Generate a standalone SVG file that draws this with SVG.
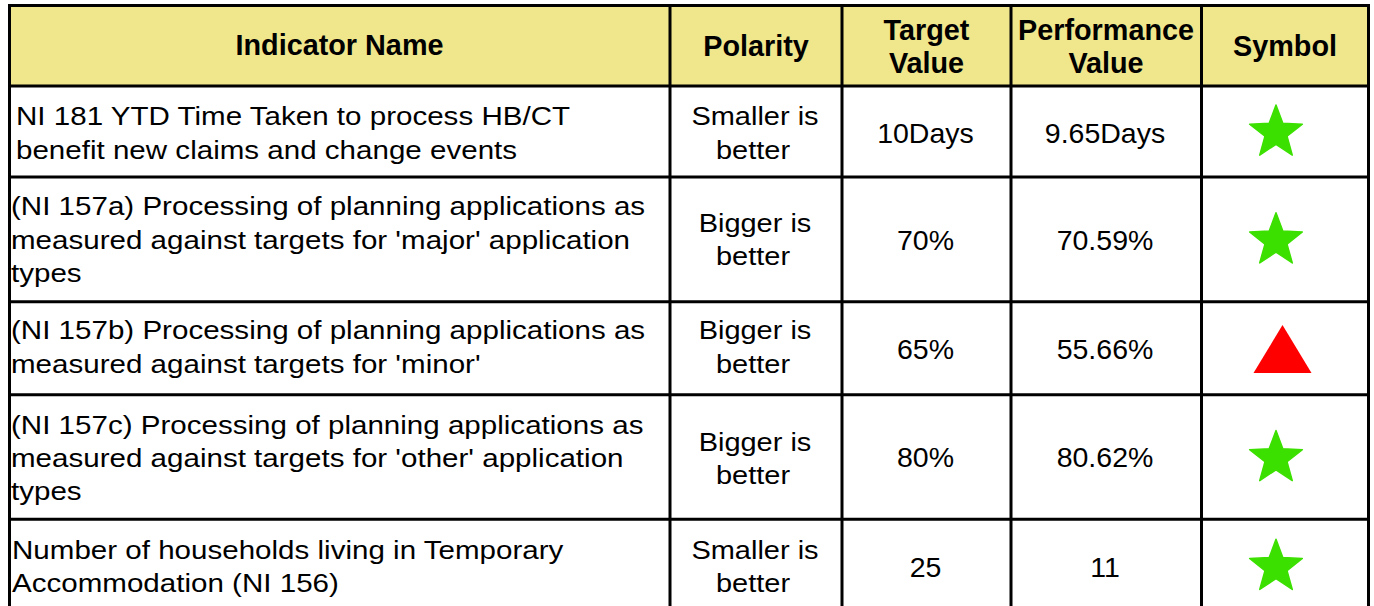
<svg xmlns="http://www.w3.org/2000/svg" width="1374" height="606" viewBox="0 0 1374 606">
<style>
.h{font-family:"Liberation Sans",Arial,sans-serif;font-weight:bold;font-size:28.8px;text-anchor:middle;fill:#000}
.t{font-family:"Liberation Sans",Arial,sans-serif;font-size:26px;fill:#000}
.m{text-anchor:middle}
.v{font-family:"Liberation Sans",Arial,sans-serif;font-size:28.5px;text-anchor:middle;fill:#000}
.grid{stroke:#000;stroke-width:3;fill:none;stroke-linecap:square}
.star{fill:#3ce000;stroke:#3ce000;stroke-width:1.5;stroke-linejoin:round}
.tri{fill:#ff0000}
</style>
<defs>
<path id="star" d="M0,-27.7 L6.82,-9.38 L26.35,-8.56 L11.03,3.58 L16.28,22.41 L0,11.6 L-16.28,22.41 L-11.03,3.58 L-26.35,-8.56 L-6.82,-9.38 Z"/>
</defs>
<rect x="0" y="0" width="1374" height="606" fill="#ffffff"/>
<g id="header">
<rect x="9.5" y="5.5" width="1359" height="80.5" fill="#f0e68c"/>
<text class="h" x="339.5" y="55">Indicator Name</text>
<text class="h" x="756" y="56">Polarity</text>
<text class="h" x="926.5" y="40">Target</text>
<text class="h" x="926.5" y="73">Value</text>
<text class="h" x="1106" y="40">Performance</text>
<text class="h" x="1106" y="73">Value</text>
<text class="h" x="1285" y="56">Symbol</text>
</g>
<g id="row1">
<text class="t" transform="translate(16,125.3) scale(1.137,1)">NI 181 YTD Time Taken to process HB/CT</text>
<text class="t" transform="translate(16,158.7) scale(1.137,1)">benefit new claims and change events</text>
<text class="t m" transform="translate(755,125.3) scale(1.115,1)">Smaller is</text>
<text class="t m" transform="translate(753,158.7) scale(1.115,1)">better</text>
<text class="v" x="925.5" y="142.7">10Days</text>
<text class="v" x="1105" y="142.7">9.65Days</text>
<use href="#star" class="star" x="1276" y="132.7"/>
</g>
<g id="row2">
<text class="t" transform="translate(11,215.3) scale(1.137,1)">(NI 157a) Processing of planning applications as</text>
<text class="t" transform="translate(11,248.7) scale(1.137,1)">measured against targets for 'major' application</text>
<text class="t" transform="translate(11,282) scale(1.137,1)">types</text>
<text class="t m" transform="translate(755,232) scale(1.115,1)">Bigger is</text>
<text class="t m" transform="translate(753,265.4) scale(1.115,1)">better</text>
<text class="v" x="925.5" y="250">70%</text>
<text class="v" x="1105" y="250">70.59%</text>
<use href="#star" class="star" x="1276" y="240.5"/>
</g>
<g id="row3">
<text class="t" transform="translate(11,339.3) scale(1.137,1)">(NI 157b) Processing of planning applications as</text>
<text class="t" transform="translate(11,373) scale(1.137,1)">measured against targets for 'minor'</text>
<text class="t m" transform="translate(755,339.3) scale(1.115,1)">Bigger is</text>
<text class="t m" transform="translate(753,373) scale(1.115,1)">better</text>
<text class="v" x="925.5" y="359">65%</text>
<text class="v" x="1105" y="359">55.66%</text>
<polygon class="tri" points="1282.5,325 1311.5,373 1253.5,373"/>
</g>
<g id="row4">
<text class="t" transform="translate(11,433.6) scale(1.137,1)">(NI 157c) Processing of planning applications as</text>
<text class="t" transform="translate(11,467) scale(1.137,1)">measured against targets for 'other' application</text>
<text class="t" transform="translate(11,500.4) scale(1.137,1)">types</text>
<text class="t m" transform="translate(755,450.5) scale(1.115,1)">Bigger is</text>
<text class="t m" transform="translate(753,484) scale(1.115,1)">better</text>
<text class="v" x="925.5" y="467.3">80%</text>
<text class="v" x="1105" y="467.3">80.62%</text>
<use href="#star" class="star" x="1276" y="458.2"/>
</g>
<g id="row5">
<text class="t" transform="translate(12,559.4) scale(1.137,1)">Number of households living in Temporary</text>
<text class="t" transform="translate(12,592.2) scale(1.137,1)">Accommodation (NI 156)</text>
<text class="t m" transform="translate(755,559.4) scale(1.115,1)">Smaller is</text>
<text class="t m" transform="translate(753,592.2) scale(1.115,1)">better</text>
<text class="v" x="925.5" y="576.5">25</text>
<text class="v" x="1105" y="576.5">11</text>
<use href="#star" class="star" x="1276" y="567"/>
</g>
<g id="connectors">
<path class="grid" d="M9.5,5.5 H1368.5 M9.5,86 H1368.5 M9.5,177 H1368.5 M9.5,301.7 H1368.5 M9.5,394.7 H1368.5 M9.5,519.2 H1368.5"/>
<path class="grid" d="M9.5,5.5 V610 M670,5.5 V610 M842,5.5 V610 M1011,5.5 V610 M1201.5,5.5 V610 M1368.5,5.5 V610"/>
</g>
</svg>
